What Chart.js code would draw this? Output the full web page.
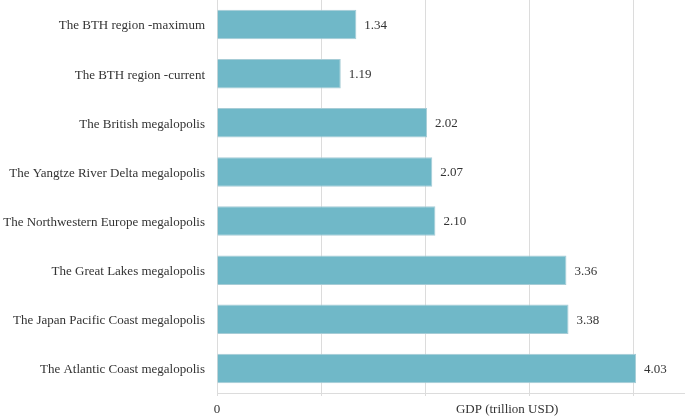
<!DOCTYPE html>
<html>
<head>
<meta charset="utf-8">
<script src="https://cdn.jsdelivr.net/npm/chart.js@4"></script>
<style>
  body { margin: 0; background: #fff; }
  canvas { display: block; }
</style>
</head>
<body>
<canvas id="myChart" width="685" height="417"></canvas>
<script>
// regions, top to bottom
const categories = [
    'The BTH region -maximum',
    'The BTH region -current',
    'The British megalopolis',
    'The Yangtze River Delta megalopolis',
    'The Northwestern Europe megalopolis',
    'The Great Lakes megalopolis',
    'The Japan Pacific Coast megalopolis',
    'The Atlantic Coast megalopolis'
];
const gdpValues = [1.34, 1.19, 2.02, 2.07, 2.10, 3.36, 3.38, 4.03];
const xTickLabels = ['0'];
const xAxisTitle = 'GDP (trillion USD)';

const serif = '"Liberation Serif", "Times New Roman", serif';

// value labels at bar ends + axis title
const labelPlugin = {
    id: 'labelPlugin',
    afterDatasetsDraw(chart) {
        const ctx = chart.ctx;
        const meta = chart.getDatasetMeta(0);
        ctx.save();
        ctx.font = '13px ' + serif;
        ctx.fillStyle = '#333';
        ctx.textAlign = 'left';
        ctx.textBaseline = 'middle';
        meta.data.forEach(function(bar, i) {
            ctx.fillText(gdpValues[i].toFixed(2), bar.x + 8, bar.y + 1);
        });
        const xs = chart.scales.x;
        ctx.textAlign = 'center';
        ctx.fillText(xAxisTitle, xs.getPixelForValue(2.79), chart.chartArea.bottom + 17);
        ctx.restore();
    }
};

const ctx = document.getElementById('myChart').getContext('2d');

window.myChart = new Chart(ctx, {
    type: 'bar',
    data: {
        labels: categories,
        datasets: [{
            data: gdpValues,
            backgroundColor: '#70b8c8',
            borderColor: '#a6ccd6',
            borderWidth: 1,
            categoryPercentage: 0.8,
            barPercentage: 0.75
        }]
    },
    options: {
        indexAxis: 'y',
        responsive: false,
        animation: false,
        layout: { padding: 0 },
        scales: {
            x: {
                min: 0,
                max: 4.5,
                ticks: {
                    stepSize: 1,
                    padding: 6,
                    maxRotation: 0,
                    color: '#333',
                    font: { family: serif, size: 13 },
                    callback: function(value) {
                        return value === 0 ? xTickLabels[0] : '';
                    }
                },
                grid: {
                    color: function(c) { return c.tick && c.tick.value > 4 ? 'rgba(0,0,0,0)' : '#dcdcdc'; },
                    tickLength: 3,
                    tickColor: function(c) { return c.tick && c.tick.value > 4 ? 'rgba(0,0,0,0)' : '#dcdcdc'; }
                },
                border: { color: '#dcdcdc' },
                afterFit: function(s) {
                    s.height = 24;
                    s.paddingLeft = 0;
                    s.paddingRight = 0;
                }
            },
            y: {
                ticks: {
                    padding: 12,
                    labelOffset: 1.5,
                    color: '#333',
                    font: { family: serif, size: 13 }
                },
                grid: { display: false, drawTicks: false },
                border: { display: false },
                afterFit: function(s) {
                    s.width = 217;
                    s.paddingTop = 0;
                    s.paddingBottom = 0;
                }
            }
        },
        plugins: {
            legend: { display: false },
            tooltip: { enabled: false }
        }
    },
    plugins: [labelPlugin]
});
</script>
</body>
</html>
